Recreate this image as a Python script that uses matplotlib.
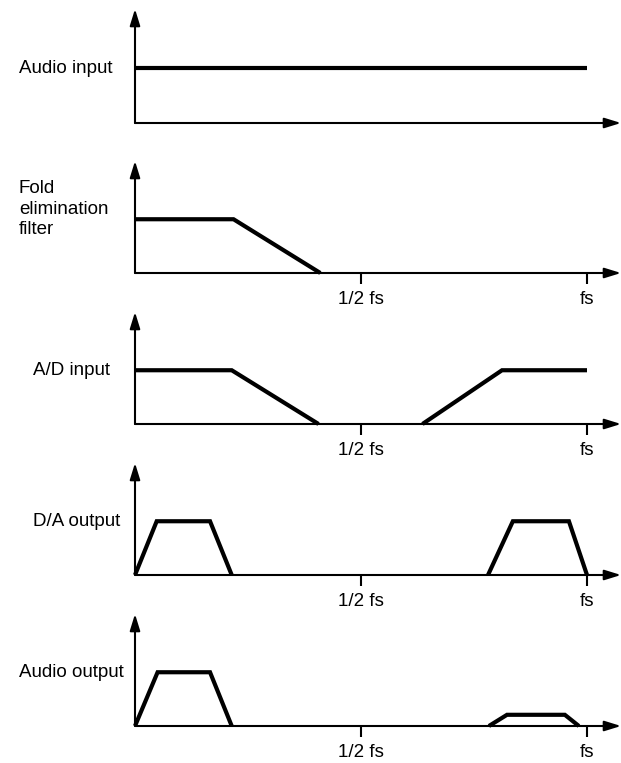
import matplotlib.pyplot as plt

plt.rcParams["font.family"] = ["Liberation Sans", "DejaVu Sans"]

# frequency in units of fs, level as a fraction of the axis height
panel_labels = ["Audio input", "Fold\nelimination\nfilter", "A/D input", "D/A output", "Audio output"]
label_x = [-0.257, -0.257, -0.225, -0.225, -0.257]

audio_in_f = [0.0, 1.0]
audio_in_a = [0.48, 0.48]

filter_f = [0.0, 0.218, 0.41]
filter_a = [0.48, 0.48, 0.0]

ad_f = [[0.0, 0.214, 0.406], [0.636, 0.812, 1.0]]
ad_a = [[0.48, 0.48, 0.0], [0.0, 0.48, 0.48]]

da_f = [[0.0, 0.048, 0.166, 0.214], [0.781, 0.836, 0.96, 1.0]]
da_a = [[0.0, 0.48, 0.48, 0.0], [0.0, 0.48, 0.48, 0.0]]

audio_out_f = [[0.0, 0.05, 0.166, 0.214], [0.783, 0.823, 0.951, 0.982]]
audio_out_a = [[0.0, 0.48, 0.48, 0.0], [0.0, 0.1, 0.1, 0.0]]

tick_pos = [0.5, 1.0]
tick_labels = ["1/2 fs", "fs"]

series = [
    [(audio_in_f, audio_in_a)],
    [(filter_f, filter_a)],
    list(zip(ad_f, ad_a)),
    list(zip(da_f, da_a)),
    list(zip(audio_out_f, audio_out_a)),
]

# pixel rows of each panel: (top of y arrow, x axis)
W, H = 621, 763
panel_rows = [(9, 123), (161, 273), (312, 424), (463, 575), (614, 726)]
X0, XFS = 135, 587
XMAX = (W - X0) / (XFS - X0)


def draw_panel(fig, idx):
    top, base = panel_rows[idx]
    ax = fig.add_axes([X0 / W, 1 - base / H, (W - X0) / W, (base - top) / H])
    ax.set_xlim(0, XMAX)
    ax.set_ylim(0, 1)
    for s in ax.spines.values():
        s.set_visible(False)

    arrow = dict(arrowstyle="-|>,head_length=0.55,head_width=0.17", lw=1.5,
                 color="black", mutation_scale=18, shrinkA=0, shrinkB=0)
    ax.annotate("", xy=(XMAX, 0), xytext=(0, 0), arrowprops=arrow,
                annotation_clip=False)
    ax.annotate("", xy=(0, 1), xytext=(0, 0), arrowprops=arrow,
                annotation_clip=False)

    for f, a in series[idx]:
        ax.plot(f, a, color="black", lw=3.0, solid_joinstyle="miter",
                solid_capstyle="butt", clip_on=False)

    ax.set_yticks([])
    if idx == 0:
        ax.set_xticks([])
    else:
        ax.set_xticks(tick_pos)
        ax.set_xticklabels(tick_labels, fontsize=13.5)
        ax.tick_params(axis="x", direction="out", length=8, width=1.5, pad=5)

    ax.text(label_x[idx], 0.48 if idx != 1 else 0.57, panel_labels[idx],
            fontsize=13.5, ha="left", va="center", linespacing=1.25,
            clip_on=False)
    ax.patch.set_visible(False)
    return ax


def main():
    fig = plt.figure(figsize=(W / 100, H / 100), dpi=100)
    for i in range(len(series)):
        draw_panel(fig, i)
    fig.savefig("out.png", dpi=100)


if __name__ == "__main__":
    main()
